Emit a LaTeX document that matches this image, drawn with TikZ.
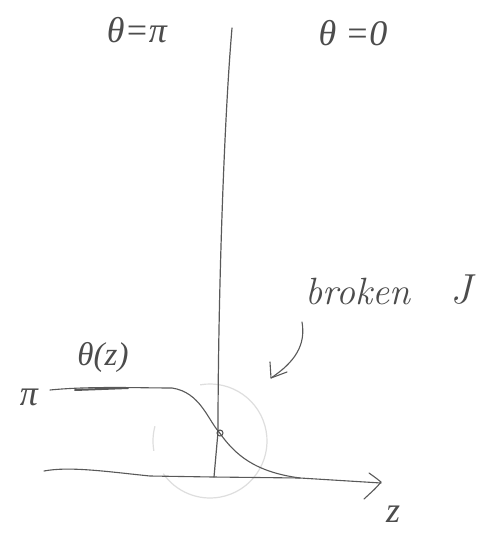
\documentclass[tikz,border=0pt]{standalone}
\usepackage{fontspec}
\newfontfamily\gkfont{Liberation Serif}
\usetikzlibrary{arrows.meta}
\begin{document}
\begin{tikzpicture}[x=1pt,y=-1pt,
  ink/.style={draw=black!65,line width=1.1pt,line cap=round,line join=round},
  faint/.style={draw=black!13,line width=1.2pt},
  lbl/.style={text=black!70,inner sep=0pt,font=\gkfont\itshape\fontsize{36}{38}\selectfont}]
\useasboundingbox[fill=white] (0,0) rectangle (493,535);
% faint circle
\draw[faint] (210,441) ++(260:57) arc[start angle=260,end angle=505,radius=57];
\draw[faint] (210,441) ++(170:57) arc[start angle=170,end angle=195,radius=57];
% vertical line
\draw[ink,line width=1.2pt] (232,28) .. controls (224,120) and (218,300) .. (218,432) -- (214,477);
% z axis
\coordinate (zend) at (381,483);
\draw[ink] (44,471) .. controls (70,466) and (110,472) .. (150,476) -- (213,477) -- (300,478) -- (zend);
\draw[ink] (369,473) .. controls (376,478) .. (381,482) .. controls (376,488) .. (364,499);
% theta(z) curve
\draw[ink] (50,390) .. controls (90,386) and (140,388) .. (172,388)
  .. controls (200,392) and (208,420) .. (219,432)
  .. controls (235,455) and (255,472) .. (300,478);
\draw[ink,line width=2pt] (75,390) -- (128,388);
\node[draw=black!70,line width=1pt,circle,inner sep=0pt,minimum size=6pt] (pt) at (220,433) {};
% labels
\node[lbl] (tpi) at (137,30) {θ=π};
\node[lbl] (tzero) at (353,33) {θ =0};
\node[lbl,font=\itshape\fontsize{38}{40}\selectfont] (broken) at (358,292) {broken};
\node[lbl,font=\itshape\fontsize{42}{44}\selectfont] (J) at (461,290) {J};
\node[lbl,font=\gkfont\itshape\fontsize{33}{35}\selectfont] (thz) at (103,357) {θ(z)};
\node[lbl] (pi) at (29,397) {π};
\node[lbl,font=\gkfont\itshape\fontsize{36}{38}\selectfont] (z) at (393,514) {z};
% pointer arrow
\coordinate (ptr) at (302,322);
\coordinate (ptrend) at (271,378);
\draw[ink] (ptr) .. controls (306,345) and (295,362) .. (ptrend);
\draw[ink] (270,362) -- (ptrend) -- (287,372);
\end{tikzpicture}
\end{document}
